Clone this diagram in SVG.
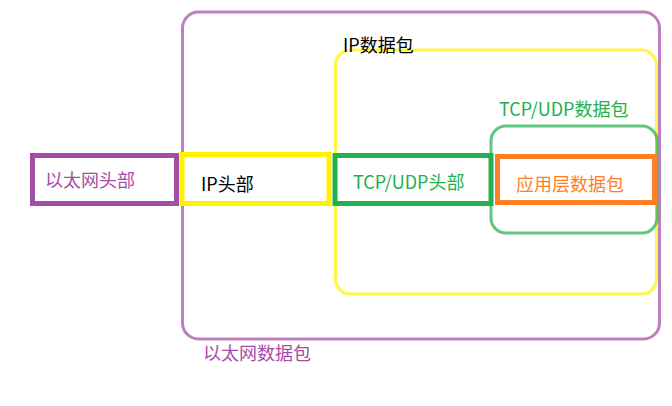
<svg xmlns="http://www.w3.org/2000/svg" width="672" height="406" viewBox="0 0 672 406">
<style>
text{font-family:"Noto Sans CJK SC","Noto Sans",sans-serif;font-size:18px}
.env{fill:none;stroke-width:3;stroke-opacity:0.72}
.hdr{fill:#fff;stroke-width:5}
</style>
<rect width="672" height="406" fill="#fff"/>
<g id="eth-packet">
<rect class="env" x="182.5" y="12" width="477" height="327" rx="16" stroke="#a64ca6"/>
<text x="203" y="360" fill="#a64ca6">以太网数据包</text>
</g>
<g id="ip-packet">
<rect class="env" x="335.5" y="50" width="321" height="244" rx="15" stroke="#fff200"/>
<text x="343" y="52" fill="#000">IP数据包</text>
</g>
<g id="tcp-packet">
<rect class="env" x="491" y="126" width="166" height="107" rx="15" stroke="#22b14c"/>
<text x="499" y="116" fill="#22b14c">TCP/UDP数据包</text>
</g>
<g id="eth-header">
<rect class="hdr" x="32.5" y="155.5" width="144" height="48" stroke="#a24ea6"/>
<text x="45" y="187" fill="#a64ca6">以太网头部</text>
</g>
<g id="ip-header">
<rect class="hdr" x="182" y="154.5" width="147" height="49" stroke="#fff200"/>
<text x="201" y="191" fill="#000">IP头部</text>
</g>
<g id="tcp-header">
<rect class="hdr" x="335" y="155.5" width="156" height="48" stroke="#22b14c"/>
<text x="353" y="189" fill="#22b14c">TCP/UDP头部</text>
</g>
<g id="app-data">
<rect class="hdr" x="497.5" y="156.5" width="157" height="46" stroke="#ff7f27"/>
<text x="516" y="191" fill="#ff7f27">应用层数据包</text>
</g>
<g id="connectors"></g>
</svg>
